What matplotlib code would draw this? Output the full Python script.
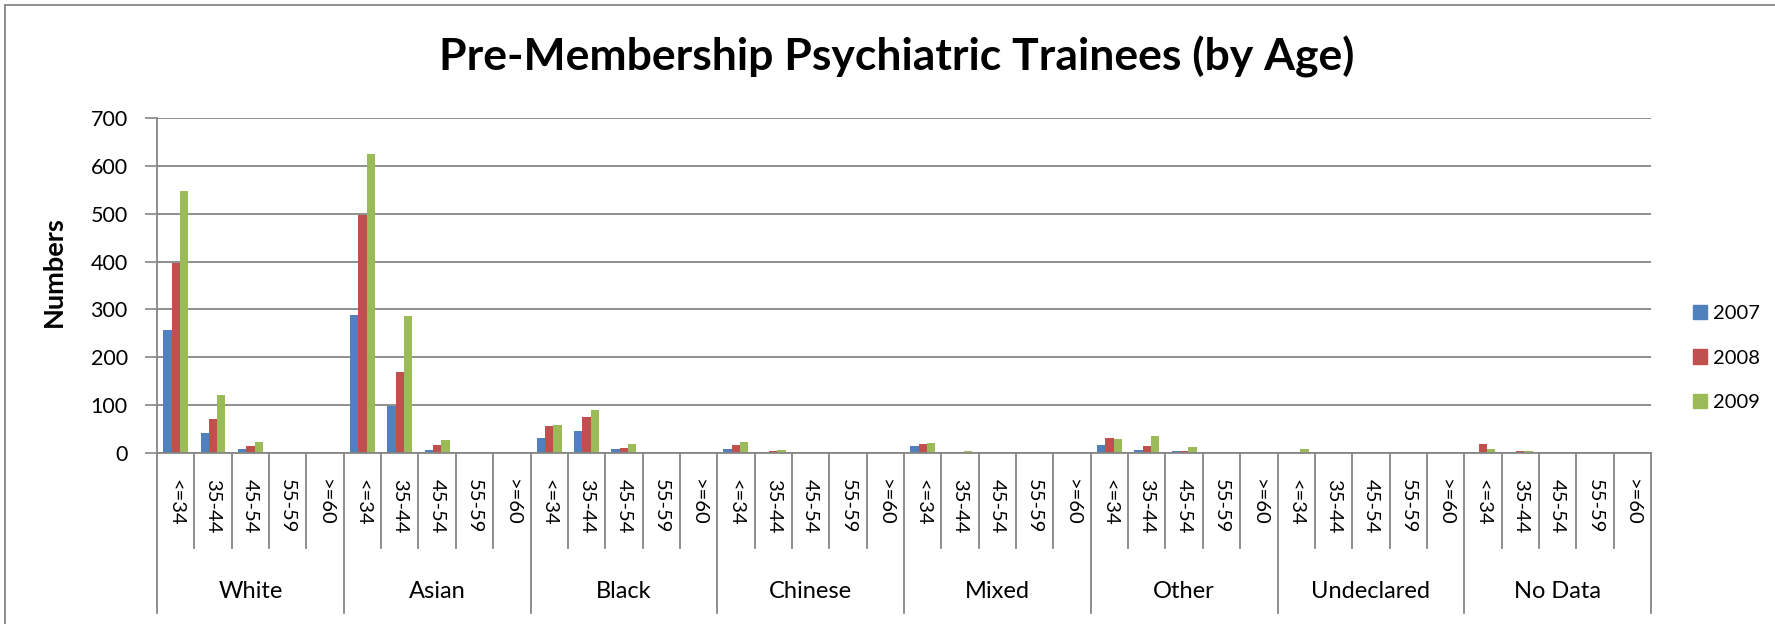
import matplotlib.pyplot as plt
import matplotlib.transforms as mtransforms
from matplotlib.patches import Patch, Rectangle
import numpy as np

plt.rcParams['font.family'] = ['Lato', 'DejaVu Sans']

groups = ['White', 'Asian', 'Black', 'Chinese', 'Mixed', 'Other', 'Undeclared', 'No Data']
ages = ['<=34', '35-44', '45-54', '55-59', '>=60']
years = ['2007', '2008', '2009']

v2007 = [256, 42, 9, 1, 0,   288, 99, 6, 0, 0,   31, 45, 9, 1, 0,   8, 1, 0, 0, 0,
         14, 3, 0, 0, 0,   16, 6, 4, 1, 0,   0, 0, 0, 0, 0,   3, 2, 1, 0, 0]
v2008 = [398, 72, 14, 1, 0,   498, 170, 16, 0, 0,   57, 75, 11, 0, 0,   16, 5, 0, 0, 0,
         19, 3, 0, 0, 0,   31, 14, 5, 0, 0,   1, 0, 0, 0, 0,   19, 5, 1, 0, 0]
v2009 = [547, 122, 24, 0, 0,   625, 286, 28, 0, 1,   59, 90, 19, 1, 0,   22, 6, 0, 0, 0,
         20, 5, 0, 0, 0,   30, 36, 13, 1, 0,   8, 0, 0, 0, 0,   8, 4, 1, 0, 0]

colors = ['#4F81BD', '#C0504D', '#9BBB59']
grid_col = '#868686'

W, H = 1775, 624
fig = plt.figure(figsize=(W / 100, H / 100), dpi=100)
ax = fig.add_axes([157 / W, 1 - 453 / H, (1651 - 157) / W, (453 - 118) / H])

n = len(groups) * len(ages)
x = np.arange(n)
bw = 0.222
for k, vals in enumerate([v2007, v2008, v2009]):
    ax.bar(x + (k - 1) * bw, vals, width=bw, color=colors[k], zorder=3)

ax.set_xlim(-0.5, n - 0.5)
ax.set_ylim(0, 700)
ax.set_yticks(range(0, 701, 100))
ax.tick_params(axis='y', labelsize=15.5, length=9, width=1.2, color=grid_col, pad=12)
ax.set_xticks([])
ax.yaxis.grid(True, color=grid_col, lw=1.3, zorder=0)
for s in ['top', 'right']:
    ax.spines[s].set_visible(False)
for s in ['left', 'bottom']:
    ax.spines[s].set_color(grid_col)
    ax.spines[s].set_linewidth(1.3)
    ax.spines[s].set_zorder(4)

# two-level category axis: age labels inside each ethnic group
trans = mtransforms.blended_transform_factory(ax.transData, ax.transAxes)
for i in range(n + 1):
    bottom = -0.478 if i % len(ages) == 0 else -0.284
    ax.plot([i - 0.5, i - 0.5], [0, bottom], color=grid_col, lw=1.3,
            transform=trans, clip_on=False)
for i in range(n):
    ax.text(i, -0.078, ages[i % len(ages)], rotation=-90, ha='center', va='top',
            fontsize=14.5, transform=trans)
for g, name in enumerate(groups):
    ax.text(g * len(ages) + 2, -0.412, name, ha='center', va='center',
            fontsize=17, transform=trans)

fig.text(897 / W, 1 - 57 / H, 'Pre-Membership Psychiatric Trainees (by Age)',
         ha='center', va='center', fontsize=32, fontweight='bold')
fig.text(54 / W, 1 - 272 / H, 'Numbers', rotation=90, ha='center', va='center',
         fontsize=19.5, fontweight='bold')

handles = [Patch(color=c) for c in colors]
fig.legend(handles, years, loc='center left', bbox_to_anchor=(1693 / W, 1 - 358 / H),
           frameon=False, fontsize=14.5, handlelength=0.7, handleheight=0.7,
           handletextpad=0.3, labelspacing=1.36, borderpad=0, borderaxespad=0)

fig.add_artist(Rectangle((5 / W, -0.05), 1.0, 1 - 5 / H + 0.05, transform=fig.transFigure,
                         fill=False, edgecolor=grid_col, lw=1.3))

fig.savefig('out.png', dpi=100)
